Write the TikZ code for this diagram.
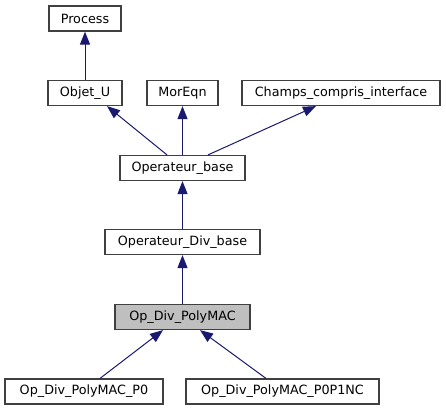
\documentclass[tikz,border=0pt]{standalone}
\usepackage{fontspec}
\setmainfont{DejaVu Sans}
\usetikzlibrary{arrows.meta}
\definecolor{edgeblue}{HTML}{191970}
\definecolor{boxline}{HTML}{404040}
\definecolor{hifill}{HTML}{BFBFBF}
\begin{document}
\begin{tikzpicture}[x=1bp,y=-1bp,
  cls/.style={draw=boxline,line width=1.2bp,fill=white,minimum height=25bp,inner sep=0pt,
    font=\fontsize{12.8}{15}\selectfont},
  hl/.style={cls,fill=hifill},
  arr/.style={draw=edgeblue,line width=1bp,-{Triangle[length=13bp,width=10bp,fill=edgeblue]}}]
\useasboundingbox (0,0) rectangle (446,411);
\node[cls,minimum width=72bp] (proc) at (85,18.5) {Process};
\node[cls,minimum width=74bp] (obj) at (85,93) {Objet\_U};
\node[cls,minimum width=71bp] (mor) at (182.5,93) {MorEqn};
\node[cls,minimum width=198bp] (cha) at (341,93) {Champs\_compris\_interface};
\node[cls,minimum width=125bp] (ob) at (182.5,168) {Operateur\_base};
\node[cls,minimum width=155bp] (odb) at (182.5,242) {Operateur\_Div\_base};
\node[hl,minimum width=135bp] (pm) at (182.5,317) {Op\_Div\_PolyMAC};
\node[cls,minimum width=158bp] (p0) at (84,391.5) {Op\_Div\_PolyMAC\_P0};
\node[cls,minimum width=193bp] (nc) at (282.5,391.5) {Op\_Div\_PolyMAC\_P0P1NC};
\draw[arr] (obj.north) -- (proc.south);
\draw[arr] ([xshift=-15.5bp]ob.north) -- ([xshift=22bp]obj.south);
\draw[arr] (ob.north) -- (mor.south);
\draw[arr] ([xshift=25.5bp]ob.north) -- ([xshift=-25bp]cha.south);
\draw[arr] (odb.north) -- (ob.south);
\draw[arr] (pm.north) -- (odb.south);
\draw[arr] ([xshift=16bp]p0.north) -- ([xshift=-19.5bp]pm.south);
\draw[arr] ([xshift=-16.5bp]nc.north) -- ([xshift=17.5bp]pm.south);
\end{tikzpicture}
\end{document}
